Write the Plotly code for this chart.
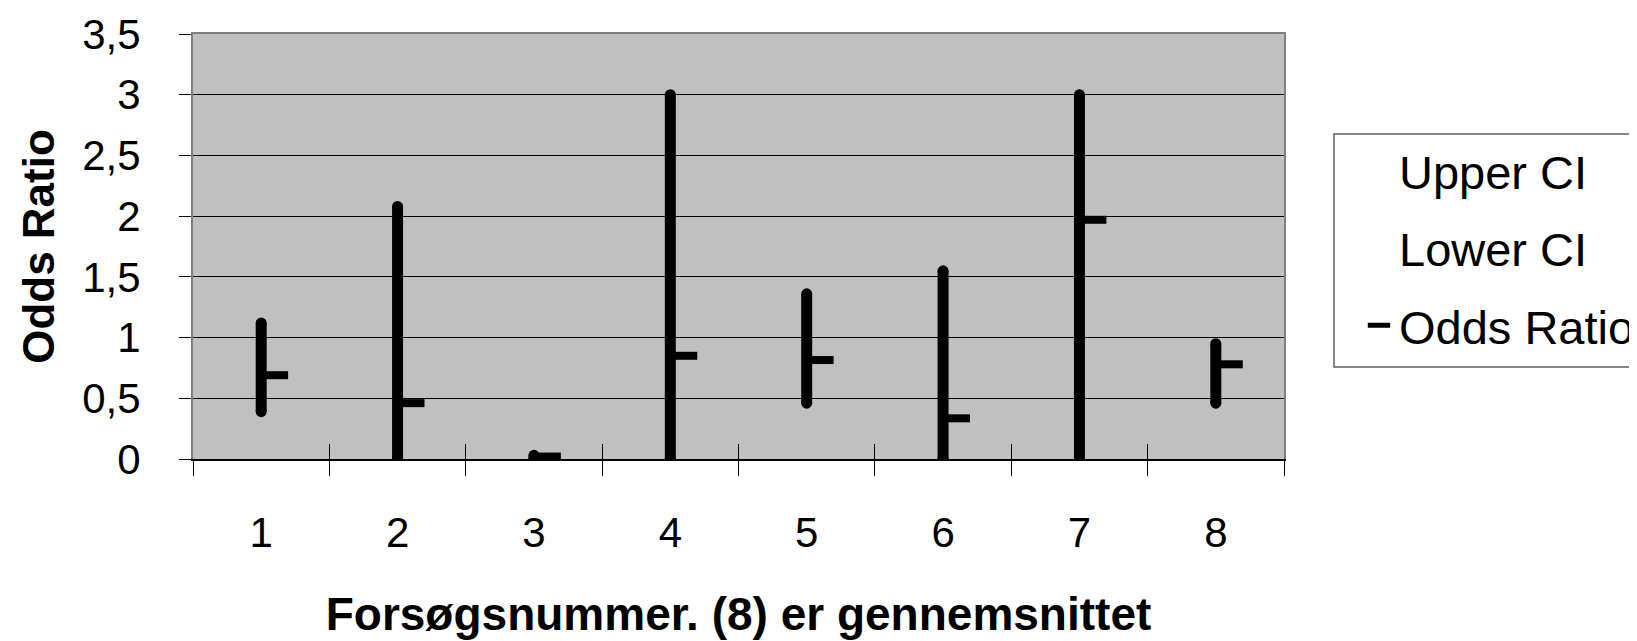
import plotly.graph_objects as go

# ---- data ----
trials = [1, 2, 3, 4, 5, 6, 7, 8]
tick_labels = ["1", "2", "3", "4", "5", "6", "7", "8"]
upper_ci = [1.12, 2.08, 0.03, 3.00, 1.36, 1.55, 3.00, 0.95]
lower_ci = [0.39, 0.00, 0.00, 0.00, 0.46, 0.00, 0.00, 0.46]
odds_ratio = [0.69, 0.46, 0.02, 0.85, 0.815, 0.335, 1.97, 0.78]

FONT = "Liberation Sans, Arial, sans-serif"
OFF = 8  # page body margin of the exported html
W, H = 1637 - OFF, 641 - OFF
ML, MT = 193 - OFF, 34 - OFF
MR = W - (1284 - OFF)
MB = H - (459 - OFF)
PW = W - ML - MR
PH = H - MT - MB


def px_x(p):
    return (p - OFF - ML) / PW


def px_y(p):
    return (H - MB - (p - OFF)) / PH


# high-low lines built from the CI arrays
hl_x, hl_y = [], []
for t, lo, hi in zip(trials, lower_ci, upper_ci):
    hl_x += [t, t, None]
    hl_y += [lo, hi, None]

fig = go.Figure()

fig.add_trace(go.Scatter(
    x=hl_x, y=hl_y, mode="lines+markers",
    line=dict(color="black", width=11),
    marker=dict(color="black", size=11),
    showlegend=False, hoverinfo="skip", name="High-Low",
))

fig.add_trace(go.Scatter(
    x=trials, y=upper_ci, mode="markers", name="Upper CI",
    marker=dict(color="rgba(0,0,0,0)", size=1),
    legendgroup="u", xaxis="x2",
))
fig.add_trace(go.Scatter(
    x=trials, y=lower_ci, mode="markers", name="Lower CI",
    marker=dict(color="rgba(0,0,0,0)", size=1),
    legendgroup="l",
))

# close ticks drawn to the right of each high-low line
tick_offset = 0.1
fig.add_trace(go.Scatter(
    x=[t + tick_offset for t in trials], y=odds_ratio, mode="markers",
    name="Odds Ratio",
    marker=dict(symbol="line-ew", size=19, color="black",
                line=dict(color="black", width=8)),
    legendgroup="o",
))

boundaries = [t - 0.5 for t in trials] + [trials[-1] + 0.5]

fig.update_layout(
    width=W, height=H,
    margin=dict(l=ML, r=MR, t=MT, b=MB, autoexpand=False),
    paper_bgcolor="white",
    plot_bgcolor="#C0C0C0",
    separators=",.",
    font=dict(family=FONT, color="black"),
    xaxis=dict(
        range=[0.5, 8.5],
        tickmode="array", tickvals=trials, ticktext=tick_labels,
        ticks="", showgrid=False, zeroline=False,
        showline=True, linecolor="#808080", linewidth=2, mirror=True,
        tickfont=dict(size=42, family=FONT, color="black"),
        ticklabelstandoff=36,
        minor=dict(tickmode="array", tickvals=boundaries, ticks="outside",
                   ticklen=15, tickwidth=1, tickcolor="black", showgrid=False),
        title=dict(text="<b>Forsøgsnummer. (8) er gennemsnittet</b>",
                   font=dict(size=46, family=FONT, color="black"), standoff=42),
    ),
    xaxis2=dict(
        overlaying="x", matches="x", anchor="y", side="bottom",
        range=[0.5, 8.5],
        tickmode="array", tickvals=boundaries, ticks="inside",
        ticklen=15, tickwidth=1, tickcolor="black",
        showticklabels=False, showgrid=False, zeroline=False,
        showline=True, linecolor="black", linewidth=2,
    ),
    yaxis=dict(
        range=[0, 3.5], tick0=0, dtick=0.5,
        showgrid=True, gridcolor="black", gridwidth=1,
        zeroline=False,
        showline=True, linecolor="#808080", linewidth=2, mirror=True,
        ticks="outside", ticklen=12, tickwidth=1, tickcolor="black",
        tickfont=dict(size=42, family=FONT, color="black"),
        ticklabelstandoff=30,
        title=dict(text="<b>Odds Ratio</b>",
                   font=dict(size=44, family=FONT, color="black"), standoff=14),
    ),
    legend=dict(
        x=px_x(1359), xanchor="left",
        y=px_y(134), yanchor="top",
        bgcolor="rgba(0,0,0,0)", borderwidth=0,
        font=dict(size=47, family=FONT, color="black"),
        tracegroupgap=13, traceorder="grouped",
    ),
    shapes=[dict(
        type="rect", xref="paper", yref="paper",
        x0=px_x(1334), x1=px_x(1700), y0=px_y(367), y1=px_y(134),
        line=dict(color="#606060", width=1.5), fillcolor="rgba(0,0,0,0)",
        layer="above",
    )],
)

fig.write_html("out.html")
